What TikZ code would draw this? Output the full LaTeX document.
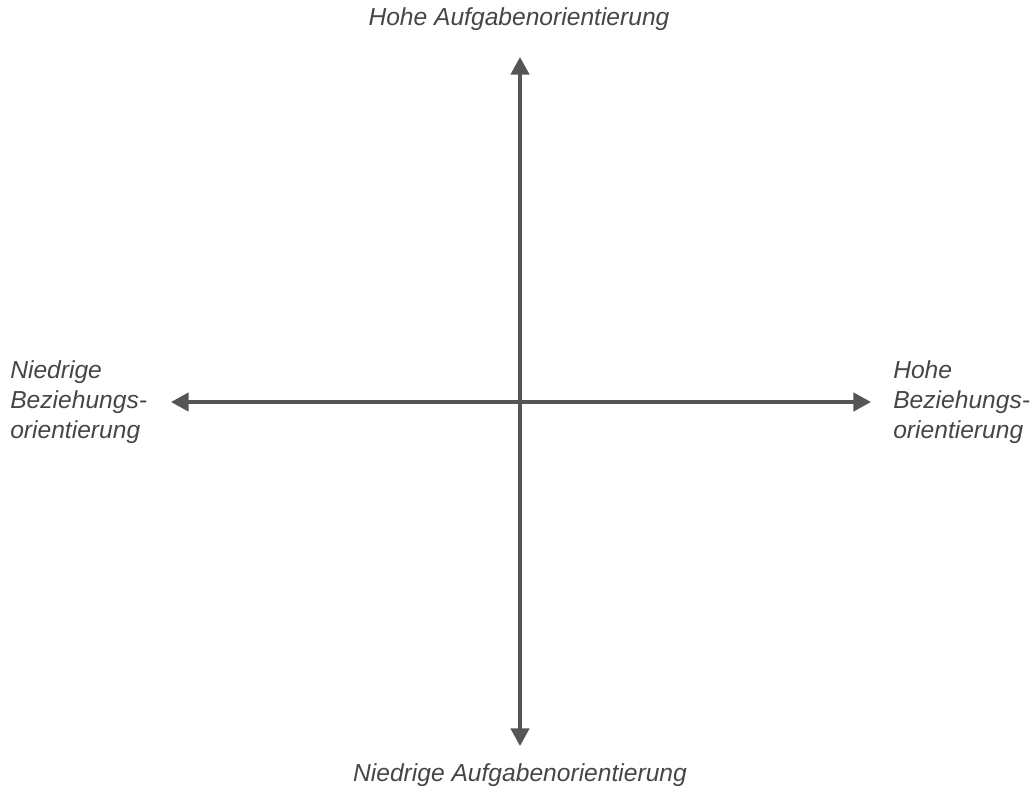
\documentclass[tikz,border=0pt]{standalone}
\usepackage{fontspec}
\setmainfont{Liberation Sans}
\usepackage{tikz}
\usetikzlibrary{arrows.meta}
\definecolor{axisgray}{RGB}{85,85,85}
\definecolor{labelgray}{RGB}{70,70,70}

\begin{document}
\begin{tikzpicture}[x=0.025cm,y=-0.025cm,>={Triangle[length=12.5pt,width=13pt]}]
    \useasboundingbox (0,0) rectangle (1036,792);
    \tikzset{lbl/.style={text=labelgray,font=\fontsize{17.5}{21.5}\selectfont\itshape,inner sep=0pt},
             axis/.style={axisgray,line width=2.4pt}}
    \coordinate (top) at (520,57); \coordinate (bot) at (520,746);
    \coordinate (lft) at (171,402); \coordinate (rgt) at (871,402);
    \draw[axis,<->] (bot)--(top);
    \draw[axis,<->] (lft)--(rgt);
    \node[lbl] (hoheA) at (519,19) {Hohe Aufgabenorientierung};
    \node[lbl] (niedA) at (520,775) {Niedrige Aufgabenorientierung};
    \node[lbl,align=left,anchor=west] (niedB) at (10,402) {Niedrige\\Beziehungs-\\orientierung};
    \node[lbl,align=left,anchor=west] (hoheB) at (893,402) {Hohe\\Beziehungs-\\orientierung};
\end{tikzpicture}
\end{document}
